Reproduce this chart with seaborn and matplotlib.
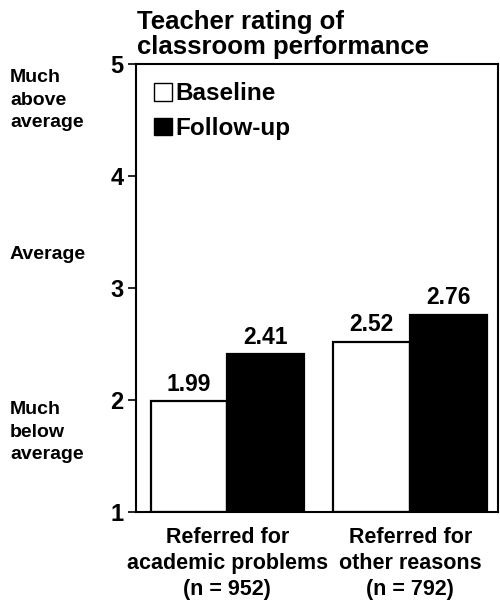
import matplotlib
matplotlib.use("Agg")
import matplotlib.pyplot as plt
import seaborn as sns
import pandas as pd
from matplotlib.patches import Patch

# Data
groups = ["Referred for\nacademic problems\n(n = 952)", "Referred for\nother reasons\n(n = 792)"]
phases = ["Baseline", "Follow-up"]
baseline = [1.99, 2.52]
followup = [2.41, 2.76]
yticks = [1, 2, 3, 4, 5]
scale_labels = {5: "Much\nabove\naverage", 3: "Average", 2: "Much\nbelow\naverage"}

df = pd.DataFrame({
    "group": groups * 2,
    "phase": [phases[0]] * 2 + [phases[1]] * 2,
    "rating": baseline + followup,
})

sns.set_theme(style="white")
plt.rcParams["font.family"] = ["Liberation Sans", "DejaVu Sans"]
plt.rcParams["font.weight"] = "bold"
plt.rcParams["text.color"] = "black"
plt.rcParams["xtick.color"] = "black"
plt.rcParams["ytick.color"] = "black"

fig = plt.figure(figsize=(5.0, 6.01), dpi=100)
ax = fig.add_axes([0.272, 0.148, 0.724, 0.7455])

palette = {"Baseline": "white", "Follow-up": "black"}
sns.barplot(data=df, x="group", y="rating", hue="phase", hue_order=phases,
            order=groups, palette=palette, width=0.84, edgecolor="black",
            linewidth=1.6, ax=ax, legend=False)

# Bars rise from the floor of the scale (1)
for bar in ax.patches:
    h = bar.get_height()
    bar.set_y(1)
    bar.set_height(h - 1)

for bar, val in zip(ax.patches, baseline + followup):
    ax.text(bar.get_x() + bar.get_width() / 2, val + 0.05, f"{val:.2f}",
            ha="center", va="bottom", fontsize=16.5, fontweight="bold", color="black")

ax.set_ylim(1, 5)
ax.set_xlim(-0.5, 1.48)
ax.set_yticks(yticks)
ax.set_yticklabels([str(t) for t in yticks], fontsize=17, fontweight="bold")
ax.tick_params(axis="y", which="both", direction="out", length=6, width=1.2, left=True, pad=3)
ax.tick_params(axis="x", length=0, pad=11, labelsize=15.5)
for lbl in ax.get_xticklabels():
    lbl.set_fontweight("bold")
    lbl.set_linespacing(1.3)
ax.set_xlabel("")
ax.set_ylabel("")
for s in ax.spines.values():
    s.set_color("black")
    s.set_linewidth(1.5)

# Verbal anchors of the rating scale
for val, txt in scale_labels.items():
    yfrac = ax.transData.transform((0, val))[1] / fig.bbox.height
    if val == 3:
        fig.text(0.02, yfrac + 0.055, txt, ha="left", va="center", fontsize=14, fontweight="bold")
    elif val == 5:
        fig.text(0.02, yfrac - 0.009, txt, ha="left", va="top", fontsize=14,
                 fontweight="bold", linespacing=1.42)
    else:
        fig.text(0.02, yfrac - 0.002, txt, ha="left", va="top", fontsize=14,
                 fontweight="bold", linespacing=1.42)

fig.text(0.274, 0.983, "Teacher rating of\nclassroom performance", ha="left", va="top",
         fontsize=18.5, fontweight="bold", linespacing=1.05)

handles = [Patch(facecolor="white", edgecolor="black", label="Baseline"),
           Patch(facecolor="black", edgecolor="black", label="Follow-up")]
ax.legend(handles=handles, loc="upper left", bbox_to_anchor=(0.0, 1.0), frameon=False,
          handlelength=0.75, handleheight=0.75, handletextpad=0.12,
          labelspacing=0.48, borderaxespad=0.35, prop={"weight": "bold", "size": 17.5})

fig.savefig("out.png", dpi=100)
